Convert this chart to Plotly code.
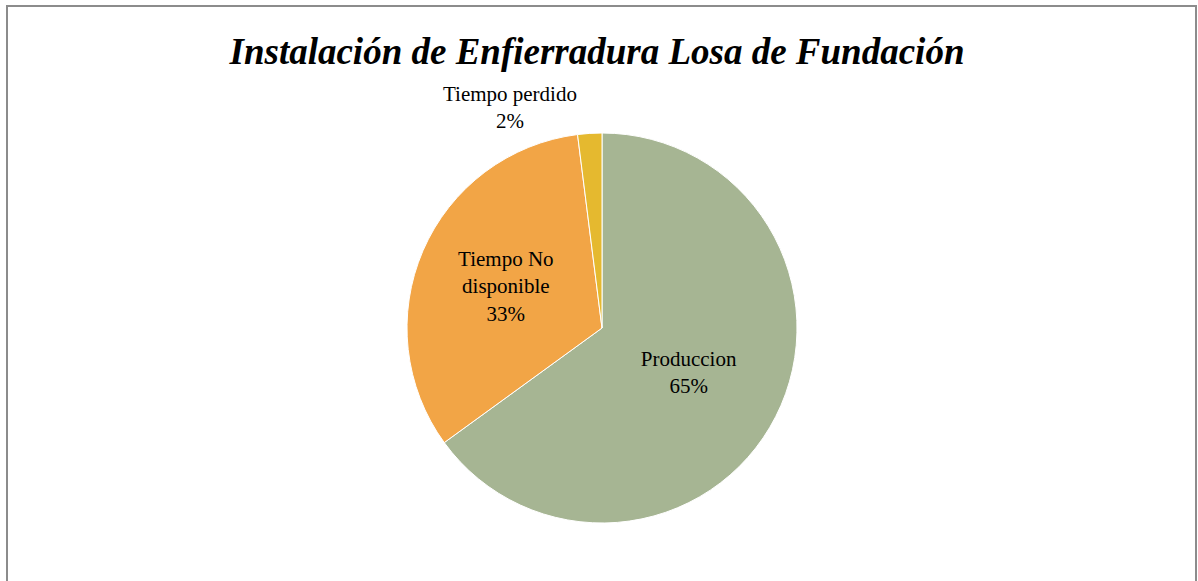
import plotly.graph_objects as go

categories = ["Produccion", "Tiempo No<br>disponible", "Tiempo perdido"]
values = [65, 33, 2]
colors = ["#A6B593", "#F2A546", "#E5B92F"]
title_text = "Instalación de Enfierradura Losa de Fundación"

W, H = 1198, 581
cx, cy, r = 602, 328, 195
FONT = "Liberation Serif, Times New Roman, serif"
label_font = dict(family=FONT, size=21, color="black")

fig = go.Figure(go.Pie(
    labels=categories,
    values=values,
    sort=False,
    direction="clockwise",
    rotation=0,
    marker=dict(colors=colors, line=dict(color="white", width=1)),
    texttemplate="%{label}<br>%{percent:.0%}",
    textposition=["inside", "inside", "outside"],
    insidetextorientation="horizontal",
    textfont=label_font,
    insidetextfont=label_font,
    outsidetextfont=label_font,
    automargin=False,
    showlegend=False,
    hoverinfo="label+percent",
    domain=dict(x=[(cx - r) / W, (cx + r) / W], y=[(H - cy - r) / H, (H - cy + r) / H]),
))

fig.update_layout(
    width=W, height=H,
    margin=dict(l=0, r=0, t=0, b=0),
    paper_bgcolor="white",
    title=dict(
        text="<b><i>" + title_text + "</i></b>",
        x=597 / W, xanchor="center",
        y=1 - 51 / H, yanchor="middle",
        font=dict(family=FONT, size=37, color="black"),
    ),
    shapes=[dict(
        type="rect", xref="paper", yref="paper",
        x0=7 / W, x1=1196 / W, y0=-0.02, y1=1 - 6 / H,
        line=dict(color="#8C8C8C", width=2), fillcolor="rgba(0,0,0,0)",
    )],
)

fig.write_html("out.html", config={"displayModeBar": False},
               post_script="document.body.style.margin='0';")
